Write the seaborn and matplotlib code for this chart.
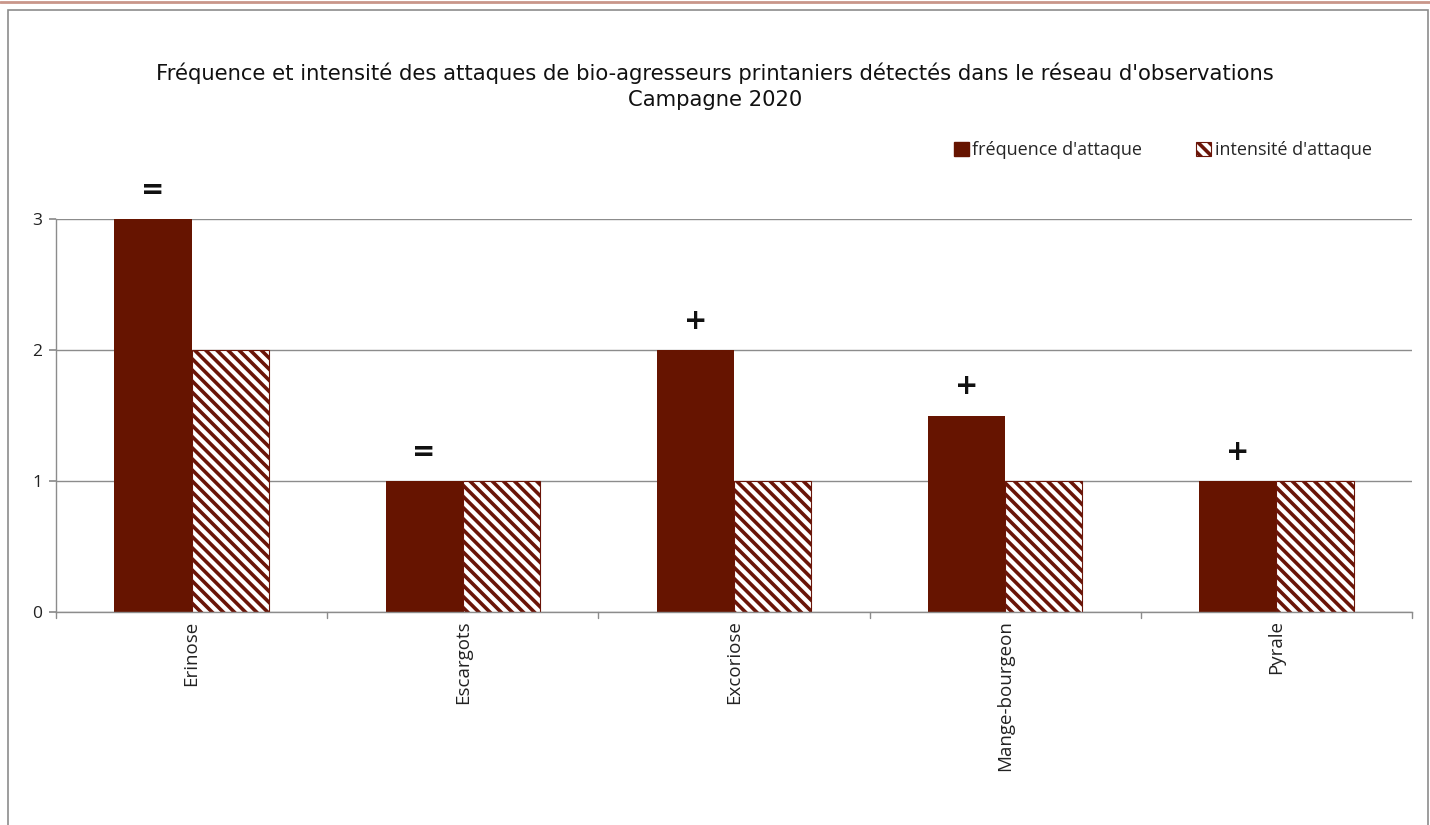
import matplotlib
matplotlib.use("Agg")
import matplotlib.pyplot as plt
import seaborn as sns
import pandas as pd
from matplotlib.patches import Patch, Rectangle
from matplotlib.lines import Line2D

categories = ["Erinose", "Escargots", "Excoriose", "Mange-bourgeon", "Pyrale"]
frequence = [3, 1, 2, 1.5, 1]
intensite = [2, 1, 1, 1, 1]
tendance = ["=", "=", "+", "+", "+"]
series_names = ["fréquence d'attaque", "intensité d'attaque"]
title_lines = ["Fréquence et intensité des attaques de bio-agresseurs printaniers détectés dans le réseau d'observations",
               "Campagne 2020"]
yticks = [0, 1, 2, 3]

MAROON = "#661400"
HATCH_EDGE = "#6a1508"
HATCH = "\\\\\\"

sns.set_theme(style="white")
plt.rcParams['font.family'] = ['Open Sans', 'DejaVu Sans']
plt.rcParams['hatch.linewidth'] = 2.6

df = pd.DataFrame({
    "cat": categories * 2,
    "val": frequence + intensite,
    "serie": [series_names[0]] * len(categories) + [series_names[1]] * len(categories),
})

fig = plt.figure(figsize=(14.3, 8.25), dpi=100)
fig.patch.set_facecolor("white")
# outer frame
fig.add_artist(Rectangle((8 / 1430, -0.01), 1420 / 1430, 1 - 10 / 825 + 0.01, transform=fig.transFigure,
                         fill=False, edgecolor="#8c8c8c", linewidth=1.2))
fig.add_artist(Line2D([0, 1], [1 - 1.5 / 825, 1 - 1.5 / 825], transform=fig.transFigure,
                      color="#c9968a", linewidth=2))

ax = fig.add_axes([56 / 1430, 1 - 612 / 825, (1412 - 56) / 1430, (612 - 219) / 825])
sns.barplot(data=df, x="cat", y="val", hue="serie", ax=ax, width=0.57, gap=0,
            palette=[MAROON, "white"], saturation=1, legend=False)

for p in ax.containers[0]:
    p.set_facecolor(MAROON)
    p.set_edgecolor(MAROON)
    p.set_linewidth(0)
for p in ax.containers[1]:
    p.set_facecolor("white")
    p.set_edgecolor(HATCH_EDGE)
    p.set_hatch(HATCH)
    p.set_linewidth(0.8)

ax.set_ylim(0, 3)
ax.set_xlim(-0.5, len(categories) - 0.5)
ax.set_yticks(yticks)
ax.set_yticklabels([str(t) for t in yticks], fontsize=12.5, color="#222222")
ax.yaxis.grid(True, color="#8c8c8c", linewidth=1)
ax.set_axisbelow(True)
ax.set_xlabel("")
ax.set_ylabel("")
ax.set_xticks(range(len(categories)))
ax.set_xticklabels(categories, rotation=90, fontsize=13.5, color="#222222")
ax.tick_params(axis="x", length=0, pad=6)
ax.tick_params(axis="y", length=5, color="#8c8c8c", left=True, pad=5)
# category boundary ticks
for b in [i - 0.5 for i in range(len(categories) + 1)]:
    ax.plot([b, b], [0, -0.045], color="#8c8c8c", lw=1, clip_on=False)
for s in ["top", "right"]:
    ax.spines[s].set_visible(False)
ax.spines["left"].set_color("#8c8c8c")
ax.spines["bottom"].set_color("#8c8c8c")
ax.spines["left"].set_linewidth(1)
ax.spines["bottom"].set_linewidth(1)

# trend annotations above frequency bars
for p, t in zip(ax.containers[0], tendance):
    xc = p.get_x() + p.get_width() / 2
    ax.annotate(t, (xc, p.get_height()), xytext=(0, 11), textcoords="offset points",
                ha="center", va="bottom", fontsize=20, fontweight="bold", color="#111111",
                annotation_clip=False, family="DejaVu Sans")

fig.text(0.5, 1 - 73 / 825, title_lines[0], ha="center", va="center", fontsize=15.2, color="#111111",
         family="DejaVu Sans")
fig.text(0.5, 1 - 100 / 825, title_lines[1], ha="center", va="center", fontsize=15.2, color="#111111",
         family="DejaVu Sans")

handles = [Patch(facecolor=MAROON, edgecolor=MAROON),
           Patch(facecolor="white", edgecolor=HATCH_EDGE, hatch=HATCH, linewidth=0.8)]
fig.legend(handles, series_names, loc="center left", bbox_to_anchor=(938 / 1430, 1 - 150 / 825),
           ncol=2, frameon=False, fontsize=13, handlelength=0.8, handleheight=0.8,
           handletextpad=0.2, columnspacing=3.0)

fig.savefig("out.png", dpi=100, facecolor="white")
